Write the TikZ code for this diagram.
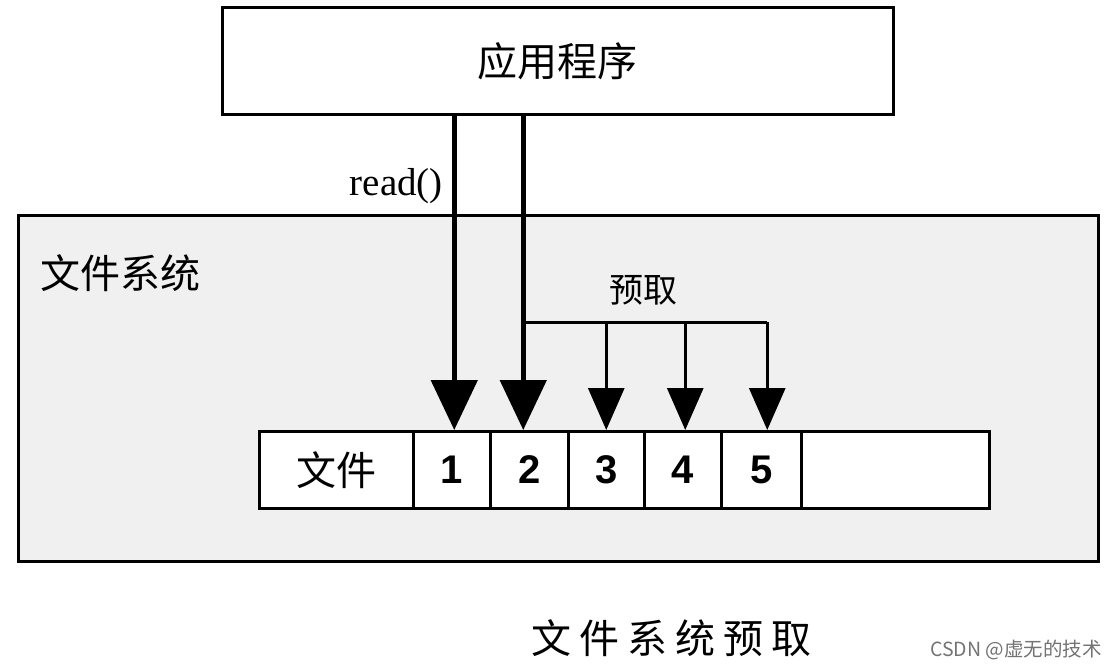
\documentclass[tikz,border=0pt]{standalone}
\usepackage{fontspec}
\setmainfont{Liberation Serif}
\newfontfamily\cjk{Noto Sans CJK SC}
\newfontfamily\numf{Liberation Sans}
\usetikzlibrary{arrows.meta,calc}
\begin{document}
\begin{tikzpicture}[x=1pt,y=-1pt,
  box/.style={draw=black,line width=3pt,fill=white,inner sep=0pt},
  cell/.style={draw=black,line width=2.5pt,fill=white,inner sep=0pt,minimum height=77pt,anchor=north west},
  bigarrow/.style={line width=5pt,-{Triangle[width=46pt,length=50pt]}},
  smallarrow/.style={line width=3pt,-{Triangle[width=36pt,length=42pt]}},
  cjklabel/.style={font=\cjk\fontsize{40}{44}\selectfont,inner sep=0pt},
  numlabel/.style={font=\numf\bfseries\fontsize{40}{44}\selectfont}]
\fill[white] (0,0) rectangle (1116,668);
\useasboundingbox (0,0) rectangle (1116,668);
% file system box
\node[draw=black,line width=3pt,fill=black!6,minimum width=1080pt,minimum height=346pt,inner sep=0pt,anchor=north west] (fs) at (17,214) {};
\node[cjklabel,anchor=west] (fslabel) at (40,273) {文件系统};
% application box
\node[box,minimum width=671pt,minimum height=107pt] (app) at (557.5,61.5) {};
\node[cjklabel] (applabel) at (app.center) {应用程序};
% file row
\node[cell,minimum width=154pt] (file) at (258,430) {};
\node[cjklabel] at (file.center) {文件};
\node[cell,minimum width=77pt] (c1) at (412,430) {};
\node[cell,minimum width=78pt] (c2) at (489,430) {};
\node[cell,minimum width=76pt] (c3) at (567,430) {};
\node[cell,minimum width=77pt] (c4) at (643,430) {};
\node[cell,minimum width=80pt] (c5) at (720,430) {};
\node[cell,minimum width=188pt] (c6) at (800,430) {};
\node[numlabel] at (c1.center) {1};
\node[numlabel] at (c2.center) {2};
\node[numlabel] at (c3.center) {3};
\node[numlabel] at (c4.center) {4};
\node[numlabel] at (c5.center) {5};
% arrows
\draw[bigarrow] ([xshift=2.5pt]app.south -| c1.north) -- ([xshift=2.5pt]c1.north);
\draw[bigarrow] ([xshift=-6pt]app.south -| c2.north) -- ([xshift=-6pt]c2.north);
\node[font=\fontsize{39}{41}\selectfont,anchor=east,inner sep=0pt] (read) at (443,186) {read()};
\coordinate (br) at ([xshift=-6pt]c2.north |- 0,322);
\draw[line width=3pt] (br) -- ([xshift=6pt]br -| c5.north);
\draw[smallarrow] (br -| c3.north) -- (c3.north);
\draw[smallarrow] ([xshift=2.5pt]br -| c4.north) -- ([xshift=2.5pt]c4.north);
\draw[smallarrow] ([xshift=6pt]br -| c5.north) -- ([xshift=6pt]c5.north);
\node[font=\cjk\fontsize{34}{38}\selectfont,inner sep=0pt] (prefetch) at (643,290) {预取};
% caption
\node[font=\cjk\fontsize{40}{44}\selectfont,inner sep=0pt] (caption) at (671,638) {文\kern8pt 件\kern8pt 系\kern8pt 统\kern8pt 预\kern8pt 取};
\node[font=\cjk\fontsize{19.5}{21}\selectfont,text=black!55,anchor=east,inner sep=0pt] (wm) at (1102,650) {CSDN @虚无的技术};
\end{tikzpicture}
\end{document}
